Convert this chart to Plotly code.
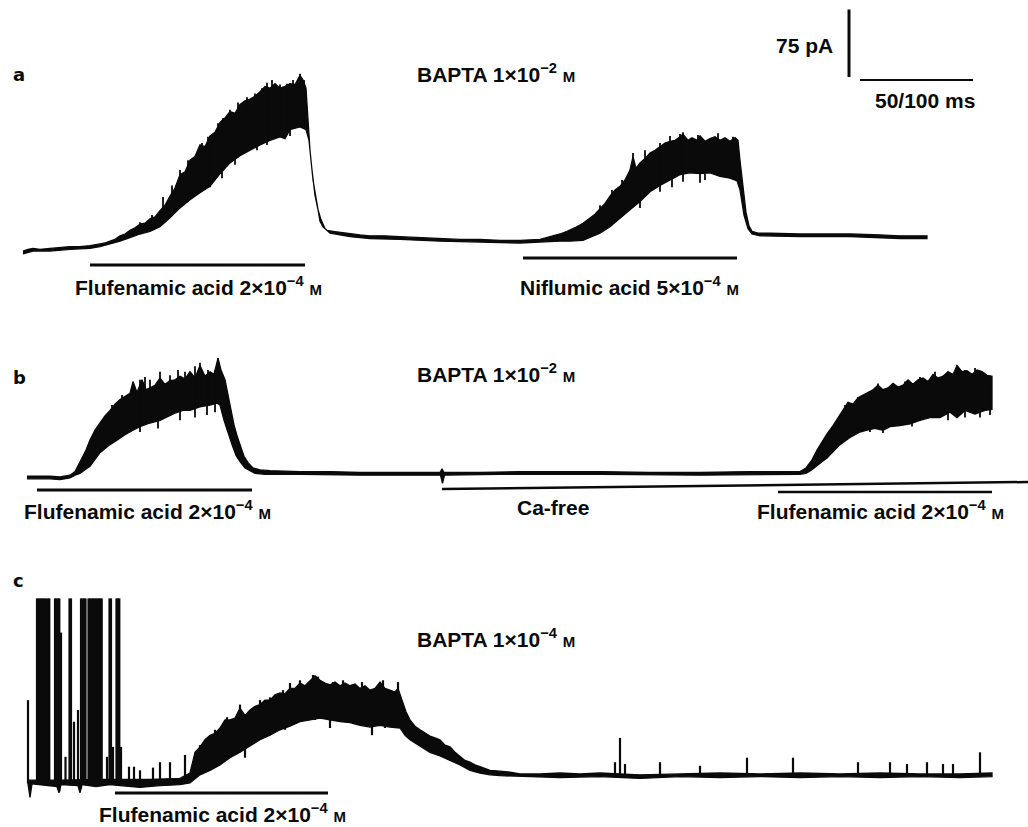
import numpy as np
import plotly.graph_objects as go

# ---------------- data (time in a.u. along the record, current in pA) ----------------
# Panel a: BAPTA 1e-2 M, flufenamic acid then niflumic acid
a_top_t = [23, 28, 33, 40, 50, 60, 70, 80, 90, 100, 105,
           110, 115, 120, 125, 130, 135, 140, 145, 150, 155, 160, 165, 170, 175, 180, 185, 190, 195,
           200, 205, 210, 215, 220, 225, 230, 235, 240, 245, 250, 255, 260, 265, 270, 275, 280, 285,
           290, 295, 300, 303, 306,
           308, 310, 313, 316, 318, 320, 323, 327, 333, 340, 350, 360, 370, 385, 400, 420, 440, 460,
           480, 500, 520, 540,
           550, 560, 567, 575, 583, 590, 595, 600, 605, 610, 615, 620, 625, 630, 633, 636, 640, 645,
           650, 655, 660, 665, 670, 675, 680, 683, 688, 692, 697, 700, 705, 710, 715, 720, 725, 730,
           735, 738,
           740, 743, 746, 749, 752, 758, 770, 800, 850, 880, 900, 927]
a_top_i = [1, 3, 4, 3, 4, 5, 6, 6, 7, 9, 10,
           12, 14, 18, 20, 24, 27, 31, 32, 37, 39, 46, 52, 62, 71, 86, 89, 102, 106,
           119, 117, 129, 133, 144, 149, 156, 154, 164, 168, 170, 173, 178, 184, 182, 187, 182, 184,
           187, 186, 196, 191, 182,
           141, 113, 80, 58, 44, 34, 28, 24, 23, 22, 20, 19, 18, 18, 17, 16, 15, 14,
           14, 13, 13, 14,
           17, 20, 23, 27, 32, 38, 42, 48, 54, 62, 69, 73, 80, 91, 106, 93, 99, 104,
           110, 113, 117, 121, 123, 124, 128, 131, 124, 127, 124, 129, 123, 126, 128, 124, 127, 123,
           127, 124,
           102, 69, 44, 29, 23, 21, 21, 20, 20, 19, 18, 18]
a_bot_t = [23, 33, 50, 70, 90, 100, 110, 120, 130, 140, 150, 160, 170, 180, 190, 200, 210, 220,
           230, 240, 250, 260, 270, 280, 285, 290, 300, 306,
           309, 312, 315, 318, 321, 325, 330, 340, 350, 370, 400, 440, 480, 520, 540,
           560, 570, 583, 590, 600, 610, 620, 630, 640, 650, 660, 670, 680, 690, 700, 710, 720, 730,
           737, 740, 744, 748, 752, 760, 800, 850, 900, 927]
a_bot_i = [-2, 1, 1, 3, 4, 6, 9, 12, 16, 20, 23, 28, 38, 49, 58, 66, 73, 87,
           99, 107, 113, 119, 124, 128, 126, 136, 139, 136,
           124, 91, 63, 47, 36, 26, 21, 19, 17, 15, 14, 12, 11, 10, 11,
           12, 12, 13, 16, 21, 28, 38, 47, 56, 67, 74, 80, 86, 88, 87, 88, 84, 82,
           79, 69, 41, 26, 20, 18, 17, 17, 15, 15]
# noise excursions riding on the a-trace (peak / trough current, pA)
a_up_t = [140, 152, 163, 172, 180, 188, 202, 208, 218, 223, 230, 238, 247, 255, 262, 267, 272,
          280, 287, 293, 300, 304,
          600, 612, 622, 633, 645, 660, 670, 680, 683, 698, 718, 733]
a_up_i = [33, 41, 61, 74, 91, 102, 121, 128, 143, 149, 158, 166, 172, 176, 182, 188, 191,
          186, 187, 191, 198, 191,
          52, 69, 80, 110, 113, 121, 129, 131, 133, 130, 132, 128]
a_dn_t = [205, 210, 222, 235, 257, 267, 285, 290, 640, 660, 672, 683, 700, 705]
a_dn_i = [69, 72, 82, 97, 113, 119, 127, 129, 49, 67, 72, 78, 77, 80]

# Panel b: BAPTA 1e-2 M, flufenamic acid, then Ca-free, then flufenamic acid in Ca-free
b_top_t = [27, 40, 50, 60, 70, 75, 78, 82, 86, 90, 95, 100, 105, 110, 115, 120, 125, 130, 133,
           137, 142, 146, 150, 155, 160, 165, 170, 175, 180, 185, 190, 195, 200, 205, 210, 214, 218,
           221, 225, 228, 231, 234, 237, 240, 244, 248, 253, 260, 270, 300, 330, 360, 400, 438, 440,
           442, 444, 480, 520, 560, 600, 650, 700, 750, 800, 806, 812, 817, 822, 827, 833, 838, 843,
           848, 853, 858, 863, 868, 873, 878, 883, 888, 893, 898, 903, 908, 913, 918, 923, 928, 933,
           938, 943, 948, 953, 957, 962, 967, 972, 977, 982, 987, 992]
b_top_i = [1, 1, 1, 0, 2, 6, 12, 21, 30, 41, 52, 60, 68, 74, 81, 86, 90, 93, 106,
           94, 108, 97, 99, 102, 110, 103, 107, 108, 112, 109, 117, 110, 124, 112, 117, 114, 132,
           119, 108, 91, 72, 58, 46, 36, 23, 16, 10, 8, 7, 6, 6, 5, 5, 5, 5,
           9, 5, 5, 6, 6, 6, 5, 5, 6, 6, 10, 19, 30, 39, 48, 57, 66, 74,
           83, 81, 88, 91, 94, 97, 102, 97, 99, 104, 100, 102, 108, 103, 108, 110, 106, 114,
           110, 112, 117, 114, 124, 117, 118, 114, 119, 117, 113, 112]
b_bot_t = [27, 50, 60, 70, 75, 80, 85, 90, 95, 100, 110, 117, 125, 133, 140, 150, 160, 167, 175,
           183, 190, 200, 210, 217, 220, 224, 228, 232, 236, 240, 245, 250, 255, 265, 300, 360, 438,
           440.5, 442.5, 444.5, 500, 600, 700, 800, 806, 812, 817, 822, 827, 833, 840, 850, 860,
           867, 875, 883, 890, 900, 910, 920, 930, 940, 950, 957, 965, 975, 985, 992]
b_bot_i = [-2, -2, -3, -1, 2, 4, 8, 12, 19, 27, 36, 41, 47, 52, 56, 60, 63, 67, 71,
           74, 74, 78, 80, 82, 80, 63, 50, 36, 24, 17, 10, 7, 4, 3, 3, 2, 2,
           2, -7, 2, 3, 3, 2, 3, 4, 8, 12, 17, 21, 28, 36, 44, 50,
           52, 54, 52, 56, 57, 59, 63, 66, 66, 72, 66, 74, 70, 74, 75]
b_up_t = [112, 122, 140, 145, 150, 160, 170, 178, 185, 195, 200, 208, 218,
          845, 858, 878, 890, 905, 920, 935, 957, 965, 975]
b_up_i = [80, 91, 108, 111, 108, 117, 113, 119, 117, 123, 127, 119, 132,
          80, 89, 104, 100, 106, 111, 117, 124, 119, 121]
b_dn_t = [140, 158, 180, 195, 207, 215, 870, 883, 912, 948, 965, 980, 990]
b_dn_i = [50, 54, 63, 66, 69, 72, 50, 49, 56, 63, 66, 66, 69]

# Panel c: BAPTA 1e-4 M, spontaneous transients then flufenamic acid
c_top_t = [28, 60, 100, 120, 150, 180, 190, 195, 200, 205, 210, 215, 220, 225, 230, 235, 240,
           245, 250, 255, 260, 265, 270, 275, 280, 285, 290, 295, 300, 305, 310, 315, 320, 325,
           330, 335, 340, 345, 350, 355, 360, 365, 370, 375, 380, 385, 390, 395, 398, 402, 406,
           410, 415, 420, 425, 430, 435, 440, 445, 450, 455, 460, 465, 470, 475, 480, 490, 500,
           510, 520, 540, 560, 580, 600, 640, 680, 720, 760, 800, 840, 880, 920, 960, 992]
c_top_i = [2, 2, 3, 3, 3, 4, 10, 33, 39, 47, 52, 54, 60, 69, 69, 71, 82,
           74, 80, 84, 86, 91, 91, 97, 99, 98, 104, 104, 110, 107, 113, 118, 113, 110,
           108, 111, 107, 110, 107, 109, 104, 107, 102, 104, 111, 104, 102, 100, 104, 91, 78,
           69, 62, 58, 54, 51, 49, 47, 41, 39, 33, 29, 24, 22, 19, 17, 13, 12,
           11, 9, 9, 10, 9, 10, 8, 9, 10, 9, 10, 9, 10, 9, 9, 10]
c_bot_t = [28, 30, 32, 57, 59, 61, 78, 80, 82, 96, 110, 120, 140, 160, 180, 190, 200, 210, 220,
           230, 240, 250, 260, 270, 280, 290, 300, 310, 320, 330, 340, 350, 360, 370, 380, 390,
           400, 405, 410, 420, 430, 440, 450, 460, 470, 480, 490, 500, 520, 560, 600, 640, 680,
           720, 760, 800, 840, 880, 920, 960, 992]
c_bot_i = [-2, -17, -2, -5, -12, -3, -4, -12, -3, -5, -3, -4, -6, -4, -3, -1, 8, 13, 19,
           27, 33, 40, 47, 52, 58, 62, 67, 69, 71, 69, 67, 66, 63, 61, 63, 61,
           60, 52, 47, 40, 33, 29, 24, 19, 13, 10, 8, 7, 6, 5, 6, 4, 6,
           5, 6, 5, 6, 5, 6, 5, 6]
# fast transients / noise peaks in panel c (pA); the large ones run off the top of the record
c_up_t = [28, 37, 38.5, 40, 41.5, 43, 44.5, 46, 48, 49.3, 55, 56.5, 58, 59.3, 61, 65.5,
          69.5, 71, 74, 78, 81, 82.5, 84, 85.5, 88.5, 90, 91.5, 93, 94.5, 96, 97.5, 99,
          100.5, 101.7, 107, 109.5, 111, 113, 116.5, 118, 119.3, 121, 129, 134, 140, 153,
          160, 170, 185,
          200, 215, 227, 240, 260, 270, 283, 290, 300, 313, 318, 333, 343, 362, 383, 398,
          615, 620, 625, 660, 700, 747, 793, 858, 890, 907, 927, 943, 953, 980]
c_up_i = [91, 204, 204, 204, 204, 204, 204, 204, 204, 204, 204, 204, 204, 204, 166, 28,
          204, 204, 67, 80, 204, 204, 204, 204, 204, 204, 204, 204, 204, 204, 204, 204,
          204, 204, 28, 204, 204, 39, 204, 204, 204, 39, 17, 17, 13, 16,
          22, 22, 30,
          41, 58, 72, 86, 91, 94, 102, 110, 113, 119, 117, 111, 113, 111, 113, 111,
          22, 49, 20, 22, 18, 27, 27, 22, 22, 20, 22, 20, 20, 33]
c_dn_t = [245, 285, 305, 315, 330, 372, 385]
c_dn_i = [27, 58, 69, 69, 60, 52, 60]

# drug application periods (same time units)
a_bars = [(90, 305), (523, 737)]
b_bars = [(37, 252), (778, 992)]
b_cafree = (442, 1028)
c_bars = [(115, 328)]
SCALE_PA = 75

# ---------------- layout helpers ----------------
W, H = 1028, 827
PX_PER_PA = 0.9
REF = {"y": 252, "y2": 477, "y3": 782}   # pixel row of the zero-current level of each panel
INK = "#0a0a0a"


def yrange(ref):
    return [-(H - ref) / PX_PER_PA, ref / PX_PER_PA]


def band(tt, ti, bt, bi, axis):
    return go.Scatter(x=list(tt) + list(bt)[::-1], y=list(ti) + list(bi)[::-1],
                      mode="lines", fill="toself", fillcolor=INK,
                      line=dict(color=INK, width=1.3), yaxis=axis, hoverinfo="skip")


def spikes(ut, ui, dt, di, tt, ti, bt, bi, axis, w):
    xs, ys = [], []
    for t, v in zip(ut, ui):          # upward excursions start from the lower edge
        xs += [t, t, None]
        ys += [float(np.interp(t, bt, bi)), v, None]
    for t, v in zip(dt, di):          # downward excursions start from the upper edge
        xs += [t, t, None]
        ys += [float(np.interp(t, tt, ti)), v, None]
    return go.Scatter(x=xs, y=ys, mode="lines", line=dict(color=INK, width=w),
                      yaxis=axis, hoverinfo="skip")


fig = go.Figure()
fig.add_trace(band(a_top_t, a_top_i, a_bot_t, a_bot_i, "y"))
fig.add_trace(band(b_top_t, b_top_i, b_bot_t, b_bot_i, "y2"))
fig.add_trace(band(c_top_t, c_top_i, c_bot_t, c_bot_i, "y3"))
fig.add_trace(spikes(a_up_t, a_up_i, a_dn_t, a_dn_i, a_top_t, a_top_i, a_bot_t, a_bot_i, "y", 1.8))
fig.add_trace(spikes(b_up_t, b_up_i, b_dn_t, b_dn_i, b_top_t, b_top_i, b_bot_t, b_bot_i, "y2", 1.8))
fig.add_trace(spikes(c_up_t, c_up_i, c_dn_t, c_dn_i, c_top_t, c_top_i, c_bot_t, c_bot_i, "y3", 2.2))

shapes = []


def px_y(py):
    return 1 - py / H


def bar(x0, x1, py0, py1=None, w=3):
    shapes.append(dict(type="line", xref="x", yref="paper", x0=x0, x1=x1,
                       y0=px_y(py0), y1=px_y(py1 if py1 is not None else py0),
                       line=dict(color=INK, width=w)))


bar(*a_bars[0], 265)
bar(*a_bars[1], 258)
bar(*b_bars[0], 490)
bar(*b_bars[1], 492, w=2.5)
bar(b_cafree[0], b_cafree[1], 489, 482, w=2.5)
bar(*c_bars[0], 793)

# scale bars: 75 pA vertical (in panel-a current units), time bar horizontal
v0 = (REF["y"] - 77) / PX_PER_PA
shapes.append(dict(type="line", xref="x", yref="y", x0=849, x1=849, y0=v0, y1=v0 + SCALE_PA,
                   line=dict(color=INK, width=3)))
bar(860, 973, 80, w=2)

M = "<span style='font-size:15px'>M</span>"
FONT = dict(family="Liberation Sans, Arial, sans-serif", size=21, color=INK, weight="bold")
LFONT = dict(family="DejaVu Sans, sans-serif", size=18, color=INK, weight="bold")
texts = [
    ("75 pA", 835, 45, "right", FONT),
    ("50/100 ms", 873, 101, "left", FONT),
    ("a", 11, 74, "left", LFONT),
    ("b", 11, 377, "left", LFONT),
    ("c", 11, 580, "left", LFONT),
    ("BAPTA 1×10<sup>−2</sup> " + M, 415, 73, "left", FONT),
    ("BAPTA 1×10<sup>−2</sup> " + M, 415, 373, "left", FONT),
    ("BAPTA 1×10<sup>−4</sup> " + M, 415, 638, "left", FONT),
    ("Flufenamic acid 2×10<sup>−4</sup> " + M, 73, 286, "left", FONT),
    ("Niflumic acid 5×10<sup>−4</sup> " + M, 518, 286, "left", FONT),
    ("Flufenamic acid 2×10<sup>−4</sup> " + M, 22, 510, "left", FONT),
    ("Ca-free", 515, 508, "left", FONT),
    ("Flufenamic acid 2×10<sup>−4</sup> " + M, 755, 510, "left", FONT),
    ("Flufenamic acid 2×10<sup>−4</sup> " + M, 97, 813, "left", FONT),
]
annotations = [dict(text=t, x=x / W, y=px_y(y), xref="paper", yref="paper",
                    xanchor=anc, yanchor="middle", showarrow=False, font=f)
               for t, x, y, anc, f in texts]

fig.update_layout(
    width=W, height=H, margin=dict(l=0, r=0, t=0, b=0),
    paper_bgcolor="white", plot_bgcolor="white", showlegend=False,
    shapes=shapes, annotations=annotations,
    xaxis=dict(range=[0, W], visible=False, fixedrange=True),
    yaxis=dict(range=yrange(REF["y"]), visible=False, fixedrange=True),
    yaxis2=dict(range=yrange(REF["y2"]), visible=False, overlaying="y", fixedrange=True),
    yaxis3=dict(range=yrange(REF["y3"]), visible=False, overlaying="y", fixedrange=True),
)
fig.write_html("out.html", config={"displayModeBar": False},
               post_script="document.body.style.margin='0px';")
